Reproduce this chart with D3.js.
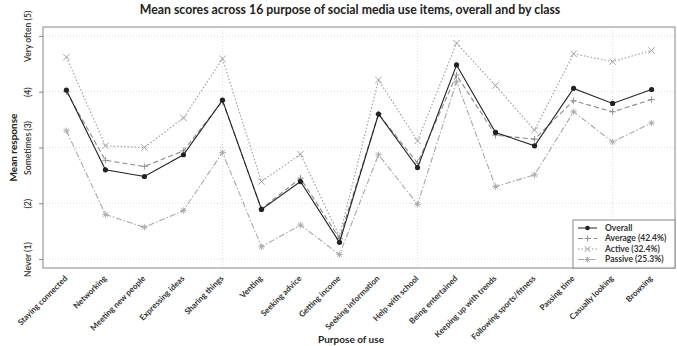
<!DOCTYPE html>
<html lang="en">
<head>
<meta charset="UTF-8">
<title>Mean scores</title>
<script src="https://cdn.jsdelivr.net/npm/d3@7"></script>
<style>
  body { margin: 0; background: #fff; }
  text { font-family: Lato, "Open Sans", sans-serif; }
</style>
</head>
<body>
<script>
const categories = ["Staying connected", "Networking", "Meeting new people", "Expressing ideas",
  "Sharing things", "Venting", "Seeking advice", "Getting income", "Seeking information",
  "Help with school", "Being entertained", "Keeping up with trends", "Following sports/fitness",
  "Passing time", "Casually looking", "Browsing"];

const overall = [4.03, 2.60, 2.48, 2.87, 3.85, 1.89, 2.39, 1.30, 3.60, 2.64, 4.48, 3.27, 3.03, 4.06, 3.79, 4.04];
const average = [4.00, 2.77, 2.66, 2.94, 3.83, 1.90, 2.45, 1.37, 3.60, 2.72, 4.30, 3.22, 3.15, 3.84, 3.64, 3.86];
const active  = [4.62, 3.03, 3.00, 3.53, 4.59, 2.39, 2.88, 1.41, 4.21, 3.12, 4.87, 4.11, 3.31, 4.68, 4.54, 4.74];
const passive = [3.30, 1.80, 1.57, 1.87, 2.91, 1.22, 1.61, 1.08, 2.87, 1.98, 4.18, 2.30, 2.51, 3.64, 3.10, 3.44];

const yTicks = [1, 2, 3, 4, 5];
const yTickLabels = ["Never (1)", "(2)", "Sometimes (3)", "(4)", "Very often (5)"];
const seriesNames = ["Overall", "Average (42.4%)", "Active (32.4%)", "Passive (25.3%)"];

const width = 677, height = 346;
const margin = {top: 27, right: 2, bottom: 78, left: 43};

const svg = d3.select("body").append("svg")
  .attr("width", width)
  .attr("height", height);

const x = d3.scaleLinear()
  .domain([0.4, 16.6])
  .range([margin.left, width - margin.right]);

const y = d3.scaleLinear()
  .domain([0.84, 5.16])
  .range([height - margin.bottom, margin.top]);

// grid (dotted, like R grid())
const grid = svg.append("g").attr("stroke", "#d4d4d4").attr("stroke-dasharray", "1,2").attr("stroke-width", 0.8);
grid.selectAll("line.h").data(yTicks).join("line")
  .attr("x1", margin.left).attr("x2", width - margin.right)
  .attr("y1", d => y(d)).attr("y2", d => y(d));
grid.selectAll("line.v").data([5, 10, 15]).join("line")
  .attr("y1", margin.top).attr("y2", height - margin.bottom)
  .attr("x1", d => x(d)).attr("x2", d => x(d));

// plot box
svg.append("rect")
  .attr("x", margin.left).attr("y", margin.top)
  .attr("width", width - margin.right - margin.left)
  .attr("height", height - margin.bottom - margin.top)
  .attr("fill", "none").attr("stroke", "#888").attr("stroke-width", 1);

// y axis
const yAxis = svg.append("g")
  .attr("transform", `translate(${margin.left},0)`)
  .call(d3.axisLeft(y).tickValues(yTicks).tickSize(4).tickFormat(""));
yAxis.select(".domain").remove();
yAxis.selectAll(".tick line").attr("stroke", "#888");
yAxis.selectAll(".tick").append("text")
  .attr("transform", "translate(-12,0) rotate(-90)")
  .attr("text-anchor", "middle")
  .attr("fill", "#333")
  .attr("font-size", 8.6)
  .attr("font-weight", 600)
  .text((d, i) => yTickLabels[i]);

// x axis labels
const xAxis = svg.append("g")
  .attr("transform", `translate(0,${height - margin.bottom})`)
  .call(d3.axisBottom(x).tickValues(d3.range(1, 17)).tickSize(0).tickFormat(""));
xAxis.select(".domain").remove();
xAxis.selectAll(".tick").append("text")
  .attr("transform", "translate(1,11) rotate(-45)")
  .attr("text-anchor", "end")
  .attr("fill", "#333")
  .attr("font-size", 8.1)
  .attr("font-weight", 700)
  .text(d => categories[d - 1]);

// titles
svg.append("text")
  .attr("x", 350).attr("y", 14)
  .attr("text-anchor", "middle")
  .attr("font-size", 12.3)
  .attr("font-weight", 700)
  .attr("fill", "#222")
  .text("Mean scores across 16 purpose of social media use items, overall and by class");

svg.append("text")
  .attr("x", 351).attr("y", 343)
  .attr("text-anchor", "middle")
  .attr("font-size", 10)
  .attr("font-weight", 700)
  .attr("fill", "#222")
  .text("Purpose of use");

svg.append("text")
  .attr("transform", `translate(17,${y(3)}) rotate(-90)`)
  .attr("text-anchor", "middle")
  .attr("font-size", 10)
  .attr("font-weight", 700)
  .attr("fill", "#222")
  .text("Mean response");

// markers
function marker(kind, s) {
  if (kind === "plus") return `M${-s},0H${s}M0,${-s}V${s}`;
  if (kind === "cross") return `M${-s},${-s}L${s},${s}M${-s},${s}L${s},${-s}`;
  if (kind === "star") {
    const t = s * 0.75;
    return `M${-s},0H${s}M0,${-s}V${s}M${-t},${-t}L${t},${t}M${-t},${t}L${t},${-t}`;
  }
  return "";
}

const series = [
  {name: seriesNames[0], values: overall, color: "#222", dash: null, width: 1.1, sym: "dot"},
  {name: seriesNames[1], values: average, color: "#8a8a8a", dash: "5,3", width: 1.1, sym: "plus"},
  {name: seriesNames[2], values: active, color: "#9a9a9a", dash: "1.5,2", width: 1.1, sym: "cross"},
  {name: seriesNames[3], values: passive, color: "#a8a8a8", dash: "6,2,1.5,2", width: 1.1, sym: "star"}
];

const line = d3.line().x((d, i) => x(i + 1)).y(d => y(d));

// draw in reverse so Overall sits on top
series.slice().reverse().forEach(s => {
  const g = svg.append("g");
  g.append("path")
    .datum(s.values)
    .attr("d", line)
    .attr("fill", "none")
    .attr("stroke", s.color)
    .attr("stroke-width", s.width)
    .attr("stroke-dasharray", s.dash);
  if (s.sym === "dot") {
    g.selectAll("circle").data(s.values).join("circle")
      .attr("cx", (d, i) => x(i + 1)).attr("cy", d => y(d))
      .attr("r", 2.6).attr("fill", s.color);
  } else {
    g.selectAll("path.m").data(s.values).join("path")
      .attr("class", "m")
      .attr("transform", (d, i) => `translate(${x(i + 1)},${y(d)})`)
      .attr("d", marker(s.sym, 3.2))
      .attr("stroke", s.color).attr("stroke-width", 0.9).attr("fill", "none");
  }
});

// legend
const lx = 573, ly = 220, lw = width - margin.right - lx, lh = height - margin.bottom - ly;
const legend = svg.append("g");
legend.append("rect")
  .attr("x", lx).attr("y", ly).attr("width", lw).attr("height", lh)
  .attr("fill", "#fff").attr("stroke", "#888");
const li = legend.selectAll("g").data(series).join("g")
  .attr("transform", (d, i) => `translate(${lx},${ly + 8 + i * 10.5})`);
li.append("line")
  .attr("x1", 5).attr("x2", 24)
  .attr("stroke", d => d.color).attr("stroke-width", 1)
  .attr("stroke-dasharray", d => d.dash);
li.each(function (d) {
  const g = d3.select(this);
  if (d.sym === "dot") g.append("circle").attr("cx", 14.5).attr("r", 2.3).attr("fill", d.color);
  else g.append("path").attr("transform", "translate(14.5,0)").attr("d", marker(d.sym, 3))
    .attr("stroke", d.color).attr("stroke-width", 0.9).attr("fill", "none");
});
li.append("text")
  .attr("x", 32).attr("dy", "0.35em")
  .attr("font-size", 8.5).attr("font-weight", 700).attr("fill", "#333")
  .text(d => d.name);
</script>
</body>
</html>
